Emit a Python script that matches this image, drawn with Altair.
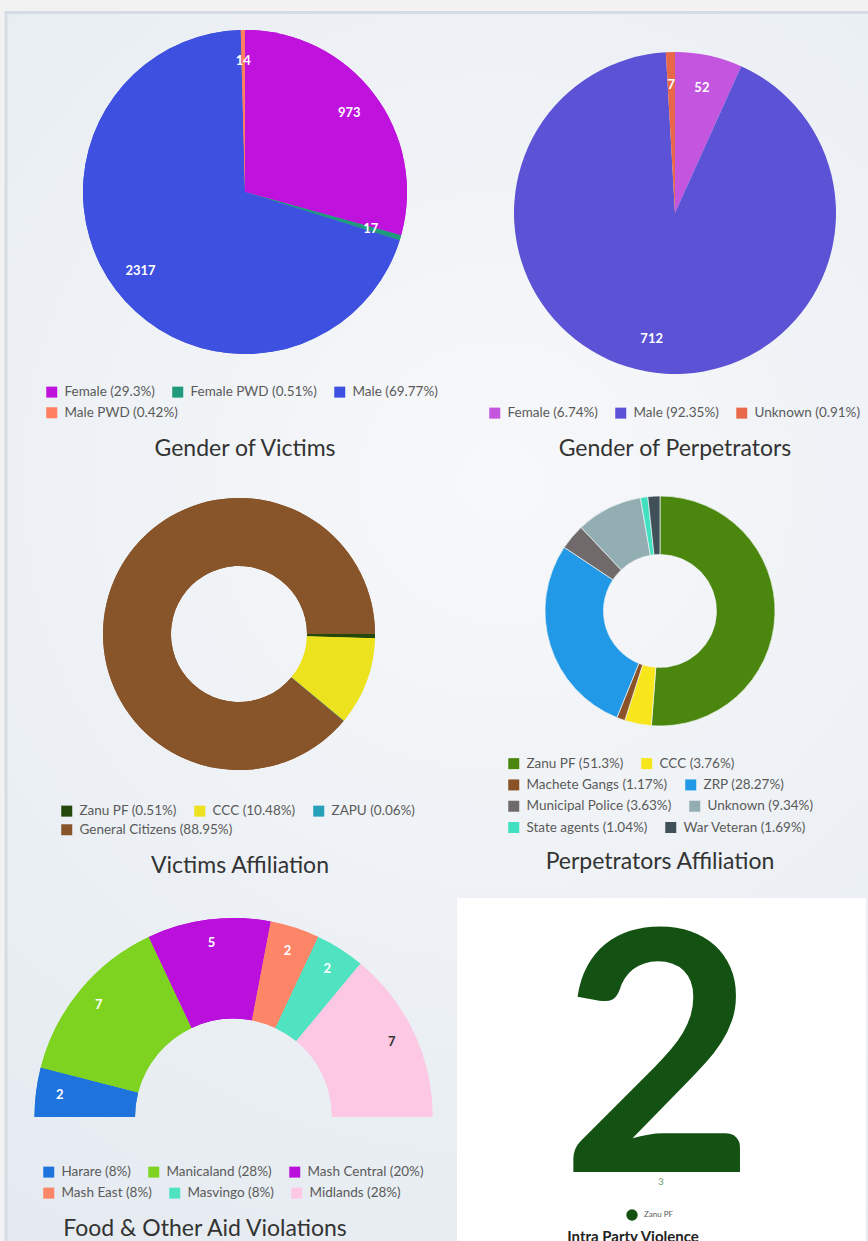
import math
import altair as alt
import pandas as pd

FONT = "Lato"
PI = math.pi

# ---------------- data ----------------
# Gender of Victims
gv_names = ["Female", "Female PWD", "Male", "Male PWD"]
gv_values = [973, 17, 2317, 14]
gv_pcts = ["29.3", "0.51", "69.77", "0.42"]
gv_colors = ["#c012dd", "#1f9a7a", "#3d50e0", "#ff7f5e"]

# Gender of Perpetrators
gp_names = ["Female", "Male", "Unknown"]
gp_values = [52, 712, 7]
gp_pcts = ["6.74", "92.35", "0.91"]
gp_colors = ["#c455de", "#5b52d5", "#e8694a"]

# Victims Affiliation
va_names = ["Zanu PF", "CCC", "ZAPU", "General Citizens"]
va_values = [17, 348, 2, 2954]
va_pcts = ["0.51", "10.48", "0.06", "88.95"]
va_colors = ["#24470c", "#ede21e", "#26a0b8", "#88552a"]

# Perpetrators Affiliation
pa_names = ["Zanu PF", "CCC", "Machete Gangs", "ZRP", "Municipal Police",
            "Unknown", "State agents", "War Veteran"]
pa_values = [51.3, 3.76, 1.17, 28.27, 3.63, 9.34, 1.04, 1.69]
pa_pcts = ["51.3", "3.76", "1.17", "28.27", "3.63", "9.34", "1.04", "1.69"]
pa_colors = ["#4b870f", "#f7e61c", "#8a5226", "#2299e6", "#716a6a",
             "#93aeb3", "#40e0c0", "#3f5058"]

# Food & Other Aid Violations
fd_names = ["Harare", "Manicaland", "Mash Central", "Mash East", "Masvingo", "Midlands"]
fd_values = [2, 7, 5, 2, 2, 7]
fd_pcts = ["8", "28", "20", "8", "8", "28"]
fd_colors = ["#1e74dc", "#7ed320", "#bb10dc", "#fd8568", "#50e3c2", "#fcc8e4"]
fd_label_colors = ["#ffffff", "#ffffff", "#ffffff", "#ffffff", "#ffffff", "#333333"]

# Intra Party Violence
ip_names = ["Zanu PF"]
ip_values = [2]
ip_tick = ["3"]
ip_colors = ["#145214"]

titles = ["Gender of Victims", "Gender of Perpetrators", "Victims Affiliation",
          "Perpetrators Affiliation", "Food & Other Aid Violations", "Intra Party Violence"]


# ---------------- helpers ----------------
def make_legend(lx, ly, values=None, sym="square", size=121, fs=13.5):
    kw = dict(title=None, orient="none", legendX=lx, legendY=ly,
              direction="horizontal", symbolType=sym, symbolSize=size,
              symbolStrokeWidth=0, symbolOpacity=1, labelFont=FONT,
              labelFontSize=fs, labelColor="#5a5a5a", labelOffset=6,
              columnPadding=16, padding=0, labelLimit=400)
    if values is not None:
        kw["values"] = values
    return alt.Legend(**kw)


def ring(names, values, pcts, colors, cx, cy, r_out, r_in, start, span,
         leg_x, leg_y, row_h, rows, label_r=None, label_colors=None,
         label_size=13, stroke=None):
    labels = [f"{n} ({p}%)" for n, p in zip(names, pcts)]
    df = pd.DataFrame({"name": names, "value": values, "label": labels,
                       "ord": list(range(len(names)))})
    df["lc"] = label_colors if label_colors else ["#ffffff"] * len(names)
    theta = alt.Theta("value:Q", stack=True,
                      scale=alt.Scale(range=[start, start + span]))
    kw = dict(outerRadius=r_out, innerRadius=r_in)
    if stroke:
        kw.update(stroke=stroke, strokeWidth=0.7)
    arcs = []
    # one (identical) arc layer per legend row, so each legend row flows freely
    for ri, row in enumerate(rows):
        leg = make_legend(leg_x, leg_y + ri * row_h, values=[labels[i] for i in row])
        arcs.append(alt.Chart(df).mark_arc(**kw).encode(
            theta=theta,
            color=alt.Color("label:N", scale=alt.Scale(domain=labels, range=colors),
                            legend=leg),
            order=alt.Order("ord:Q"),
            x=alt.value(cx), y=alt.value(cy),
        ))
    layers = arcs[::-1]
    if label_r is not None:
        txt = alt.Chart(df).mark_text(radius=label_r, font=FONT, fontSize=label_size,
                                      fontWeight="bold").encode(
            theta=theta,
            detail="label:N",
            order=alt.Order("ord:Q"),
            text="value:Q",
            color=alt.Color("lc:N", scale=None),
            x=alt.value(cx), y=alt.value(cy),
        )
        layers.append(txt)
    return alt.layer(*layers).resolve_scale(color="independent")


def title_text(t, x, y, size=23, weight="normal", color="#333333"):
    return alt.Chart(pd.DataFrame({"t": [t]})).mark_text(
        font=FONT, fontSize=size, fontWeight=weight, color=color,
        align="center", baseline="middle").encode(
        text="t:N", x=alt.value(x), y=alt.value(y))


one = pd.DataFrame({"a": [0]})

panel_fill = {"gradient": "radial", "x1": 0.55, "y1": 0.38, "r1": 0,
              "x2": 0.55, "y2": 0.38, "r2": 0.8,
              "stops": [{"offset": 0, "color": "#f7f8fa"},
                        {"offset": 1, "color": "#e2e9ef"}]}

panel = alt.Chart(one).mark_rect(fill=panel_fill, stroke="#d6dce3", strokeWidth=3).encode(
    x=alt.value(6), x2=alt.value(872), y=alt.value(12.5), y2=alt.value(1250))

white = alt.Chart(one).mark_rect(fill="#ffffff").encode(
    x=alt.value(457), x2=alt.value(866), y=alt.value(898), y2=alt.value(1250))

p1 = ring(gv_names, gv_values, gv_pcts, gv_colors, 245, 192, 162, 0, 0, 2 * PI,
          45, 385, 21, [[0, 1, 2], [3]], label_r=131)
p2 = ring(gp_names, gp_values, gp_pcts, gp_colors, 675, 213, 161, 0, 0, 2 * PI,
          488, 406, 21, [[0, 1, 2]], label_r=128)
p3 = ring(va_names, va_values, va_pcts, va_colors, 239, 634, 136, 68, PI / 2, 2 * PI,
          60, 804, 19, [[0, 1, 2], [3]])
p4 = ring(pa_names, pa_values, pa_pcts, pa_colors, 660, 611, 115, 56.5, 0, 2 * PI,
          507, 756.5, 21.3, [[0, 1], [2, 3], [4, 5], [6, 7]], stroke="#f4f6f8")
p5 = ring(fd_names, fd_values, fd_pcts, fd_colors, 233.5, 1117, 199, 98.5, -PI / 2, PI,
          42, 1165, 21, [[0, 1, 2], [3, 4, 5]], label_r=175,
          label_colors=fd_label_colors)

ip_df = pd.DataFrame({"party": ip_names, "count": ip_values, "tick": ip_tick})
big = alt.Chart(ip_df).mark_text(font=FONT, fontSize=336, fontWeight="bold",
                                 align="center", baseline="alphabetic").encode(
    text="count:Q", x=alt.value(658), y=alt.value(1172),
    color=alt.Color("party:N", scale=alt.Scale(domain=ip_names, range=ip_colors),
                    legend=make_legend(626, 1209, sym="circle", size=130, fs=8)))
tick = alt.Chart(ip_df).mark_text(font=FONT, fontSize=10, color="#6f9a6f",
                                  align="center", baseline="middle").encode(
    text="tick:N", x=alt.value(661), y=alt.value(1182))

t_layers = [
    title_text(titles[0], 245, 449),
    title_text(titles[1], 675, 449),
    title_text(titles[2], 240, 866),
    title_text(titles[3], 660, 862),
    title_text(titles[4], 205, 1229),
    title_text(titles[5], 633, 1237, size=15, weight="bold", color="#222222"),
]

chart = alt.layer(panel, white, p1, p2, p3, p4, p5, big, tick, *t_layers).resolve_scale(
    theta="independent", color="independent"
).properties(
    width=868, height=1241, padding=0, background="#f2f2f2",
    autosize=alt.AutoSizeParams(type="none"),
).configure_view(strokeWidth=0)

chart.save("out.html", embed_options={"renderer": "svg", "actions": False})
